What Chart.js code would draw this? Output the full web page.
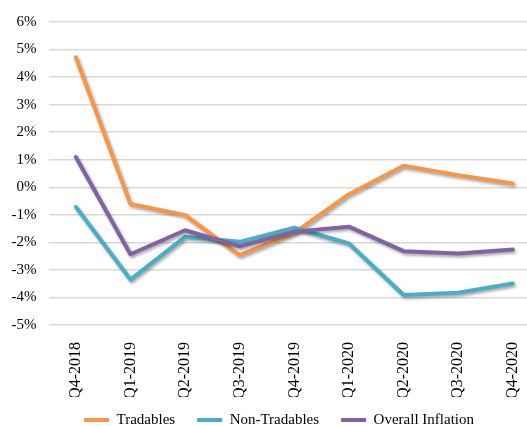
<!DOCTYPE html>
<html>
<head>
<meta charset="utf-8">
<script src="https://cdn.jsdelivr.net/npm/chart.js@4/dist/chart.umd.min.js"></script>
<style>
  html, body { margin: 0; padding: 0; background: #ffffff; overflow: hidden; }
  #wrap { position: relative; width: 541px; height: 444px; }
</style>
</head>
<body>
<div id="wrap"><canvas id="c" width="541" height="444"></canvas></div>
<script>
// Quarterly inflation, year-on-year (%)
const quarters = ['Q4-2018', 'Q1-2019', 'Q2-2019', 'Q3-2019', 'Q4-2019', 'Q1-2020', 'Q2-2020', 'Q3-2020', 'Q4-2020'];
const tradables = [4.72, -0.61, -1.01, -2.46, -1.66, -0.25, 0.78, 0.44, 0.14];
const nonTradables = [-0.71, -3.35, -1.80, -1.98, -1.47, -2.04, -3.91, -3.83, -3.49];
const overallInflation = [1.10, -2.43, -1.56, -2.14, -1.61, -1.43, -2.32, -2.40, -2.26];
const yTicks = [-5, -4, -3, -2, -1, 0, 1, 2, 3, 4, 5, 6];

const SERIF = '"Liberation Serif", "Times New Roman", serif';

// soft drop shadow under the lines
const lineShadow = {
  id: 'lineShadow',
  beforeDatasetDraw(chart) {
    const ctx = chart.ctx;
    ctx.save();
    ctx.shadowColor = 'rgba(0,0,0,0.35)';
    ctx.shadowBlur = 3;
    ctx.shadowOffsetX = 1.5;
    ctx.shadowOffsetY = 2;
  },
  afterDatasetDraw(chart) {
    chart.ctx.restore();
  }
};

// nudge the legend: centred under the visible plot, tucked closer to the axis labels
const legendShift = {
  id: 'legendShift',
  afterLayout(chart) {
    const lg = chart.legend;
    if (lg) {
      lg.left += 8.5;
      lg.right += 8.5;
      lg.top -= 6.5;
      lg.bottom -= 6.5;
    }
  }
};

const series = [
  { label: 'Tradables', data: tradables, color: '#F79646', order: 2 },
  { label: 'Non-Tradables', data: nonTradables, color: '#4BACC6', order: 1 },
  { label: 'Overall Inflation', data: overallInflation, color: '#8064A2', order: 0 }
];

new Chart(document.getElementById('c'), {
  type: 'line',
  data: {
    labels: quarters,
    datasets: series.map(s => ({
      label: s.label,
      data: s.data,
      borderColor: s.color,
      backgroundColor: s.color,
      borderWidth: 4,
      pointRadius: 0,
      tension: 0,
      order: s.order,
      borderJoinStyle: 'round',
      borderCapStyle: 'round'
    }))
  },
  options: {
    responsive: false,
    animation: false,
    layout: { padding: { top: 22, left: 0, right: 0, bottom: 0 } },
    plugins: {
      tooltip: { enabled: false },
      legend: {
        position: 'bottom',
        labels: {
          font: { family: SERIF, size: 15 },
          color: '#000000',
          boxWidth: 25,
          boxHeight: 4,
          padding: 22,
          sort: (a, b) => a.datasetIndex - b.datasetIndex,
          generateLabels(chart) {
            const items = Chart.defaults.plugins.legend.labels.generateLabels(chart);
            items.forEach(it => { it.lineWidth = 0; });
            return items;
          }
        }
      }
    },
    scales: {
      x: {
        offset: true,
        grid: { display: false },
        border: { display: false },
        ticks: {
          font: { family: SERIF, size: 16 },
          color: '#000000',
          minRotation: 90,
          maxRotation: 90,
          padding: 9
        },
        afterFit(scale) { scale.height = 72; }
      },
      y: {
        min: -5,
        max: 6,
        afterBuildTicks(scale) { scale.ticks = yTicks.map(v => ({ value: v })); },
        grid: { color: '#d9d9d9', lineWidth: 1.5, drawTicks: false },
        border: { display: false },
        ticks: {
          font: { family: SERIF, size: 15 },
          color: '#000000',
          padding: 12,
          callback: v => v + '%'
        },
        afterFit(scale) { scale.width = 48.5; }
      }
    }
  },
  plugins: [lineShadow, legendShift]
});
</script>
</body>
</html>
